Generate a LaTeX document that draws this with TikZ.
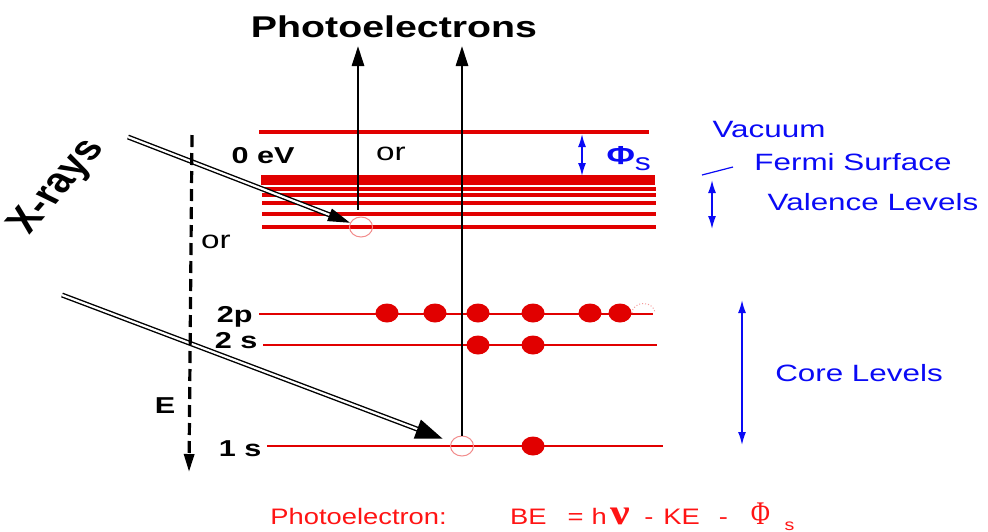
\documentclass[tikz,border=0pt]{standalone}
\usepackage{fontspec}
\setmainfont{Liberation Sans}
\newfontfamily\grkfont{Liberation Serif}
\usetikzlibrary{arrows.meta, positioning, shapes.geometric}
\definecolor{lvred}{RGB}{225,0,0}
\definecolor{lblblue}{RGB}{10,10,245}
\definecolor{eqred}{RGB}{255,20,20}

\begin{document}
\begin{tikzpicture}[x=0.5pt, y=-0.5pt, inner sep=0pt,
    lbl/.style={font=\bfseries\fontsize{11.5}{12}\selectfont, xscale=1.33},
    orlbl/.style={font=\fontsize{12.5}{13}\selectfont, xscale=1.33},
    blu/.style={text=lblblue, font=\fontsize{11.8}{12}\selectfont, xscale=1.33},
    lvl/.style={draw=lvred, line width=#1},
    hole/.style={draw=lvred!45, line width=0.5pt, ellipse, minimum width=11.5pt, minimum height=10pt},
    xray/.style={double, double distance=1.1pt, line width=0.7pt},
    emit/.style={line width=1.4pt, -{Triangle[length=10pt,width=6pt]}},
    bluearr/.style={draw=lblblue, line width=0.8pt, {Latex[length=6.5pt,width=4pt]}-{Latex[length=6.5pt,width=4pt]}}]
    \useasboundingbox (0,0) rectangle (988,531);

    % Vacuum, Fermi and valence levels
    \draw[lvl=1.9pt] (259,132) -- (649,132);
    \draw[lvl=5pt] (261,180) -- (655,180);
    \foreach \y in {189,195,203,214,227}
        \draw[lvl=1.7pt] (262,\y) -- (656,\y);

    % Core levels
    \draw[lvl=0.7pt] (259,314) -- (653,314);
    \draw[lvl=1.1pt] (263,345) -- (657,345);
    \draw[lvl=1.1pt] (267,446) -- (663,446);

    % Electrons
    \foreach \x in {387,435,478,533,590,620}
        \fill[lvred] (\x,313) ellipse [x radius=5.75pt, y radius=4.75pt];
    \foreach \x in {478,533}
        \fill[lvred] (\x,345) ellipse [x radius=5.75pt, y radius=4.75pt];
    \fill[lvred] (533,446) ellipse [x radius=5.75pt, y radius=4.75pt];
    \draw[lvred!40, densely dotted, line width=0.5pt] (632,313) arc [start angle=180, end angle=0, x radius=5.75pt, y radius=4.75pt];

    % Holes
    \node[hole] (vhole) at (361,227) {};
    \node[hole] (chole) at (462,446) {};

    % Photoelectrons
    \node[font=\bfseries\fontsize{15}{16}\selectfont, xscale=1.31, anchor=base] (pe) at (394,37) {Photoelectrons};
    \coordinate (vtop) at (358,46);
    \coordinate (ctop) at (462,46);
    \draw[emit] ([xshift=-1.5pt,yshift=3.5pt]vhole.north) -- (vtop);
    \draw[emit] (chole.north) -- (ctop);

    % X-rays
    \node[font=\bfseries\fontsize{17}{17}\selectfont, xscale=1.33, rotate=57] (xr) at (58,187) {X-rays};
    \coordinate (xs1) at (128,137);
    \coordinate (xs2) at (62,295);
    \draw[xray, -{Triangle[length=11pt,width=6.5pt]}] (xs1) -- (vhole);
    \draw[xray, -{Triangle[length=13.5pt,width=10pt]}, shorten >=4.5pt] (xs2) -- (chole);

    % Energy axis
    \coordinate (etop) at (192,135);
    \coordinate (ebot) at (189,472);
    \draw[line width=1.6pt, dash pattern=on 6pt off 3pt, -{Triangle[length=9pt,width=5pt]}] (etop) -- (ebot);
    \node[lbl] (le) at (165,406) {E};

    % Level labels
    \node[lbl, anchor=base east] (l0) at (295,163) {0 eV};
    \node[orlbl, anchor=base] (or1) at (391,160) {or};
    \node[orlbl, anchor=base] (or2) at (216,248) {or};
    \node[lbl, anchor=base east] (l2p) at (253,322) {2p};
    \node[lbl, anchor=base east] (l2s) at (258,348) {2 s};
    \node[lbl, anchor=base east] (l1s) at (262,456) {1 s};

    % Work function
    \coordinate (phitop) at (582,134);
    \coordinate (phibot) at (582,176);
    \draw[bluearr] (phitop) -- (phibot);
    \node[text=lblblue, font=\bfseries\fontsize{13}{13}\selectfont, xscale=1.33, anchor=base west] (phi) at (606,164) {Φ\raisebox{-3pt}{\mdseries\fontsize{12}{12}\selectfont s}};

    % Right-hand labels
    \node[blu] (vac) at (769,129) {Vacuum};
    \node[blu] (fermi) at (853,162) {Fermi Surface};
    \coordinate (fa) at (702,175);
    \coordinate (fb) at (733,167);
    \draw[lblblue, line width=0.6pt] (fa) -- (fb);
    \coordinate (valtop) at (712,180);
    \coordinate (valbot) at (712,229);
    \draw[bluearr] (valtop) -- (valbot);
    \node[blu] (val) at (873,202) {Valence Levels};
    \coordinate (coretop) at (742,300);
    \coordinate (corebot) at (742,445);
    \draw[bluearr] (coretop) -- (corebot);
    \node[blu] (core) at (859,373) {Core Levels};

    % Binding energy
    \node[text=eqred, font=\fontsize{11.2}{12}\selectfont, xscale=1.22, anchor=base west] (eq) at (270,524) {Photoelectron:\hspace{26pt}BE\hspace{8.6pt}=\hspace{3.3pt}h\hspace{1.4pt}{\grkfont\bfseries\fontsize{18}{18}\selectfont ν}\hspace{6pt}-\hspace{4pt}KE\hspace{7.8pt}-\hspace{9.4pt}\scalebox{0.65}[1]{\grkfont\fontsize{16.5}{16.5}\selectfont Φ}\hspace{6pt}\raisebox{-3pt}{\fontsize{8}{8}\selectfont s}};
\end{tikzpicture}
\end{document}
